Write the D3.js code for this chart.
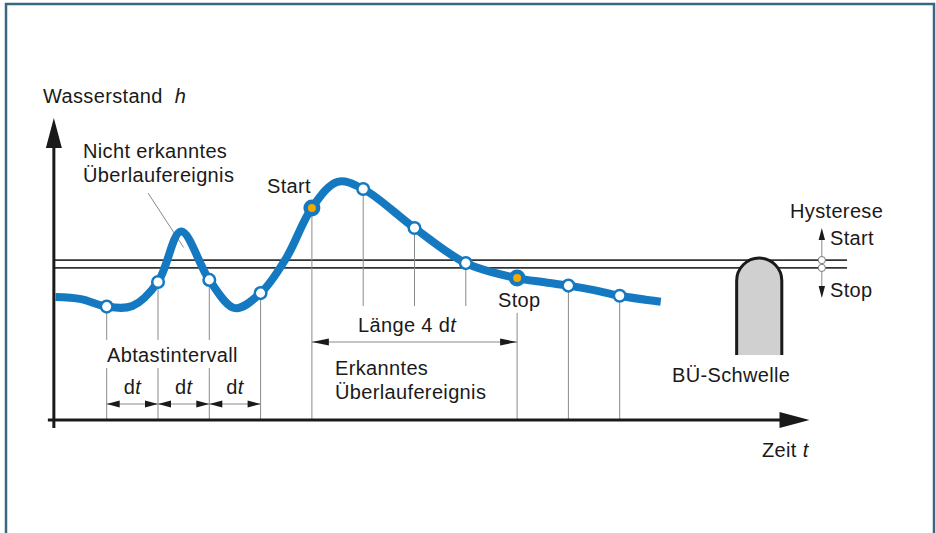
<!DOCTYPE html>
<html>
<head>
<meta charset="utf-8">
<script src="https://cdn.jsdelivr.net/npm/d3@7"></script>
<style>
  body { margin: 0; background: #fff; }
  svg { display: block; }
  .lbl { font-family: "Liberation Sans", Arial, sans-serif; font-size: 20px; letter-spacing: 0.35px; fill: #1a1a1a; }
</style>
</head>
<body>
<svg id="chart"></svg>
<script>
// water level curve (t in sampling intervals dt, h in arbitrary level units)
const curveT = [-1, -0.5, 0, 0.5, 1, 1.45, 2, 2.5, 3, 3.5, 4, 4.5, 5, 6, 7, 8, 8.5, 9, 9.5, 10, 10.8];
const curveH = [41, 40.3, 37.8, 38, 46, 62.8, 46.7, 37.3, 42.3, 54, 70.7, 79.4, 77, 64, 52.3, 47.3, 46, 44.8, 43.3, 41.4, 39.4];

// sampled values at t = 0..10
const sampleT = [0, 1, 2, 3, 4, 5, 6, 7, 8, 9, 10];
const sampleH = [37.8, 46, 46.7, 42.3, 70.7, 77, 64, 52.3, 47.3, 44.8, 41.4];
const eventIdx = [4, 8];           // Start, Stop
const hStart = 53.3, hStop = 50.7; // hysteresis thresholds
const weirT = [12.28, 13.16], weirFoot = 21.7;

const width = 936, height = 533;
const blue = "#1479c0", grey = "#8a8a8a", ink = "#1a1a1a";

const svg = d3.select("#chart").attr("width", width).attr("height", height);

const x = d3.scaleLinear().domain([0, 10]).range([106.7, 619.7]);
const y = d3.scaleLinear().domain([0, 100]).range([420, 120]);

const axisT0 = -1.03, axisTEnd = 13.7, axisHEnd = 100.7, hystTEnd = 14.43, hystMarkT = 13.94;

// frame
svg.append("path")
    .attr("d", `M6,${height} V4 H934 V${height}`)
    .attr("fill", "none").attr("stroke", "#3a6883").attr("stroke-width", 2.5);

const arrowHead = (tx, ty, dir, len, half) => {
    // dir: "l","r","u","d"
    let p;
    if (dir === "r") p = [[tx, ty], [tx - len, ty - half], [tx - len, ty + half]];
    if (dir === "l") p = [[tx, ty], [tx + len, ty - half], [tx + len, ty + half]];
    if (dir === "u") p = [[tx, ty], [tx - half, ty + len], [tx + half, ty + len]];
    if (dir === "d") p = [[tx, ty], [tx - half, ty - len], [tx + half, ty - len]];
    svg.append("path").attr("d", "M" + p.join("L") + "Z").attr("fill", ink);
};

// hysteresis threshold lines
[hStart, hStop].forEach(h => {
    svg.append("line")
        .attr("x1", x(axisT0)).attr("x2", x(hystTEnd))
        .attr("y1", y(h)).attr("y2", y(h))
        .attr("stroke", "#333").attr("stroke-width", 1.6);
});

// vertical sample lines
const gapTop = y(26.7), gapBot = y(17.3);
sampleT.forEach((t, i) => {
    const xs = x(t), ys = y(sampleH[i]);
    let segs;
    if (i <= 2) segs = [[ys, gapTop], [gapBot, y(0)]];
    else if (i >= 5 && i <= 7) segs = [[ys, y(38)]];
    else if (i === 8) segs = [[y(35.7), y(0)]];
    else segs = [[ys, y(0)]];
    segs.forEach(s => svg.append("line")
        .attr("x1", xs).attr("x2", xs).attr("y1", s[0]).attr("y2", s[1])
        .attr("stroke", grey).attr("stroke-width", 1));
});

// leader line for missed event
svg.append("line")
    .attr("x1", 148).attr("y1", 193).attr("x2", x(1.5)).attr("y2", y(57.5))
    .attr("stroke", grey).attr("stroke-width", 1);

// axes
svg.append("line")
    .attr("x1", x(axisT0)).attr("x2", x(axisT0))
    .attr("y1", y(-2.7)).attr("y2", y(axisHEnd) + 20)
    .attr("stroke", ink).attr("stroke-width", 3);
arrowHead(x(axisT0), y(axisHEnd), "u", 30, 8);
svg.append("line")
    .attr("x1", x(axisT0) - 6).attr("x2", x(axisTEnd) - 20)
    .attr("y1", y(0)).attr("y2", y(0))
    .attr("stroke", ink).attr("stroke-width", 3);
arrowHead(x(axisTEnd), y(0), "r", 30, 8);

// dt dimension arrows
const dtY = y(5.33);
[0, 1, 2].forEach(i => {
    const a = x(i), b = x(i + 1);
    svg.append("line").attr("x1", a).attr("x2", b).attr("y1", dtY).attr("y2", dtY)
        .attr("stroke", grey).attr("stroke-width", 1);
    arrowHead(a, dtY, "l", 13, 3.5);
    arrowHead(b, dtY, "r", 13, 3.5);
    const tx = svg.append("text").attr("class", "lbl")
        .attr("x", (a + b) / 2).attr("y", 394).attr("text-anchor", "middle");
    tx.append("tspan").text("d");
    tx.append("tspan").attr("font-style", "italic").text("t");
});

// Länge 4 dt arrow
const lenY = y(26);
svg.append("line").attr("x1", x(4)).attr("x2", x(8)).attr("y1", lenY).attr("y2", lenY)
    .attr("stroke", grey).attr("stroke-width", 1);
arrowHead(x(4), lenY, "l", 17, 3.5);
arrowHead(x(8), lenY, "r", 17, 3.5);

// weir (BÜ-Schwelle)
const wl = x(weirT[0]), wr = x(weirT[1]), rad = (wr - wl) / 2, wTop = y(hStart) - 2;
svg.append("path")
    .attr("d", `M${wl},${y(weirFoot)} V${wTop + rad} A${rad},${rad} 0 0 1 ${wr},${wTop + rad} V${y(weirFoot)}`)
    .attr("fill", "#d0d0d0").attr("stroke", ink).attr("stroke-width", 3);

// hysteresis marker
const hx = x(hystMarkT);
svg.append("line").attr("x1", hx).attr("x2", hx).attr("y1", y(61)).attr("y2", y(43.5))
    .attr("stroke", grey).attr("stroke-width", 1);
arrowHead(hx, y(64), "u", 12, 3.2);
arrowHead(hx, y(40.7), "d", 12, 3.2);
[hStart, hStop].forEach(h => svg.append("circle")
    .attr("cx", hx).attr("cy", y(h)).attr("r", 3.6)
    .attr("fill", "#fff").attr("stroke", "#777").attr("stroke-width", 1));

// water level curve
const pts = curveT.map((t, i) => [x(t), y(curveH[i])]);
svg.append("path")
    .datum(pts)
    .attr("d", d3.line().curve(d3.curveCatmullRom.alpha(0.5)))
    .attr("fill", "none").attr("stroke", blue).attr("stroke-width", 8);

// sample points
svg.selectAll(".sample")
    .data(sampleT.map((t, i) => ({t, h: sampleH[i], ev: eventIdx.includes(i)})))
    .join("g")
    .attr("class", "sample")
    .each(function(d) {
        const g = d3.select(this);
        if (d.ev) {
            g.append("circle").attr("cx", x(d.t)).attr("cy", y(d.h)).attr("r", 8.5).attr("fill", blue);
            g.append("circle").attr("cx", x(d.t)).attr("cy", y(d.h)).attr("r", 4).attr("fill", "#f2a900");
        } else {
            g.append("circle").attr("cx", x(d.t)).attr("cy", y(d.h)).attr("r", 5.8)
                .attr("fill", "#fff").attr("stroke", blue).attr("stroke-width", 2.5);
        }
    });

// labels
const label = (tx, ty, txt, anchor) => svg.append("text").attr("class", "lbl")
    .attr("x", tx).attr("y", ty).attr("text-anchor", anchor || "start").text(txt);

const yl = svg.append("text").attr("class", "lbl").attr("x", 43).attr("y", 103);
yl.append("tspan").text("Wasserstand");
yl.append("tspan").attr("dx", 12).attr("font-style", "italic").text("h");

label(83, 158, "Nicht erkanntes");
label(83, 182, "Überlaufereignis");
label(267, 193, "Start");
label(498, 307, "Stop");
label(107, 362, "Abtastintervall");

const ll = svg.append("text").attr("class", "lbl").attr("x", 358).attr("y", 332);
ll.append("tspan").text("Länge 4 d");
ll.append("tspan").attr("font-style", "italic").text("t");

label(335, 375, "Erkanntes");
label(335, 399, "Überlaufereignis");
label(672, 382, "BÜ-Schwelle");

const zl = svg.append("text").attr("class", "lbl").attr("x", 762).attr("y", 457);
zl.append("tspan").text("Zeit ");
zl.append("tspan").attr("font-style", "italic").text("t");

label(790, 218, "Hysterese");
label(830, 245, "Start");
label(830, 297, "Stop");
</script>
</body>
</html>
